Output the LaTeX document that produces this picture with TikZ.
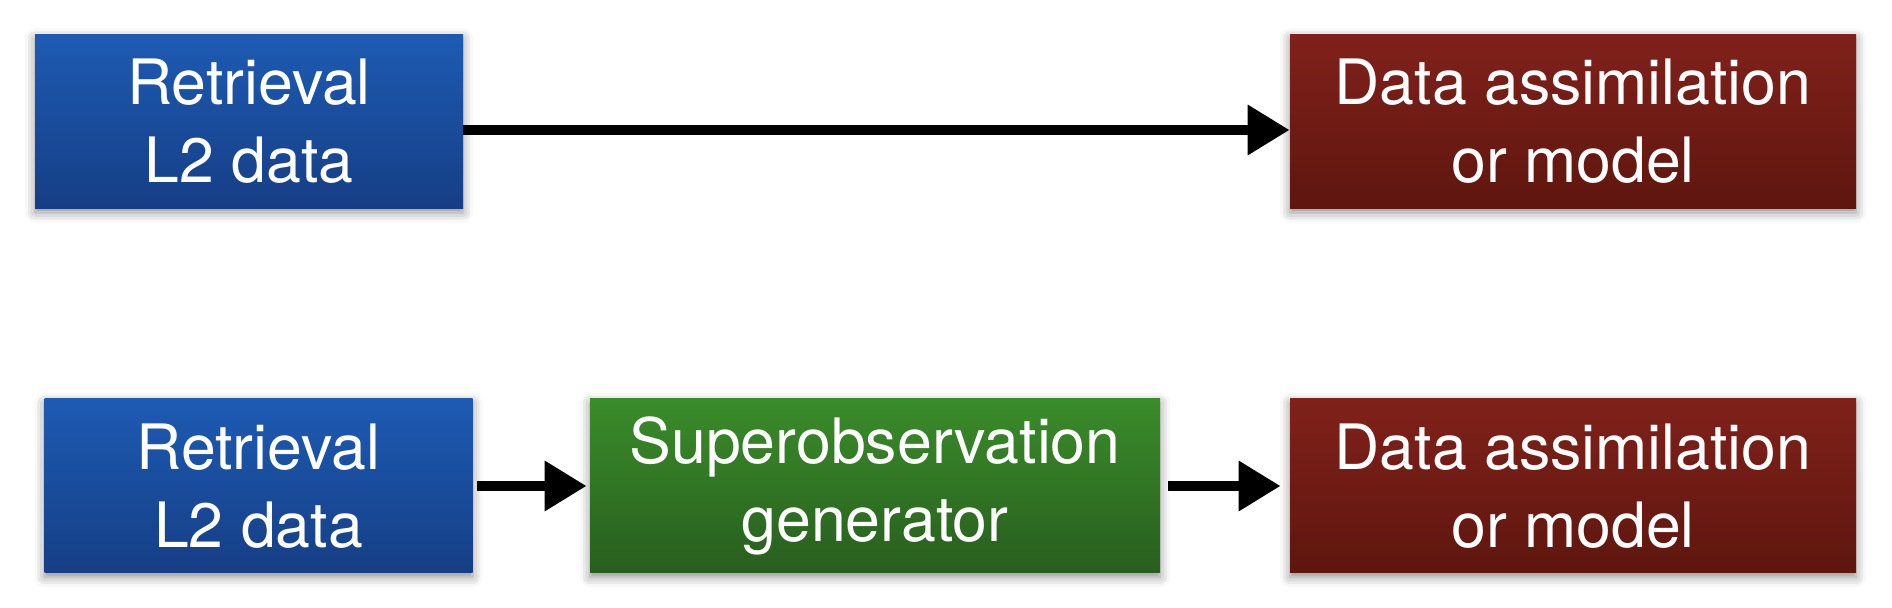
\documentclass[tikz,border=0pt]{standalone}
\usepackage{fontspec}
\setmainfont{TeX Gyre Heros}
\usetikzlibrary{arrows.meta}
\usetikzlibrary{positioning, calc}
\usetikzlibrary{shadows.blur}

\definecolor{retrtop}{RGB}{29,91,179}
\definecolor{retrbot}{RGB}{22,62,133}
\definecolor{supertop}{RGB}{58,140,42}
\definecolor{superbot}{RGB}{40,94,30}
\definecolor{assimtop}{RGB}{128,33,27}
\definecolor{assimbot}{RGB}{94,22,14}

\begin{document}
\begin{tikzpicture}[x=0.5pt, y=-0.5pt,
    block/.style={minimum height=87pt, text=white, align=center, inner sep=0pt,
        font=\fontsize{31.3}{39}\selectfont,
        blur shadow={shadow xshift=0pt, shadow yshift=-2pt, shadow blur radius=5pt, shadow opacity=45}},
    retr/.style={block, minimum width=214pt, top color=retrtop, bottom color=retrbot},
    super/.style={block, minimum width=285pt, top color=supertop, bottom color=superbot},
    assim/.style={block, minimum width=283pt, top color=assimtop, bottom color=assimbot},
    flow/.style={line width=5pt, -{Triangle[length=21pt, width=24pt]}}
]
    \useasboundingbox (0,0) rectangle (1892,608);

    % direct path
    \draw (249, 121.5) node[retr] (retr1) {Retrieval\\L2 data};
    \draw (retr1) ++(1324, 0) node[assim] (assim1) {Data assimilation\\or model};

    % path through the superobservations
    \draw (retr1) ++(9.5, 364.5) node[retr] (retr2) {Retrieval\\L2 data};
    \draw (retr2) ++(616.5, 0) node[super] (super) {Superobservation\\generator};
    \draw (super) ++(698, 0) node[assim] (assim2) {Data assimilation\\or model};

    \draw[flow] ([yshift=-4.25pt]retr1.east) -- ([yshift=-4.25pt]assim1.west);
    \draw[flow, shorten <=2pt, shorten >=1.5pt] (retr2) -- (super);
    \draw[flow, shorten <=4pt, shorten >=4.5pt] (super) -- (assim2);

\end{tikzpicture}
\end{document}
